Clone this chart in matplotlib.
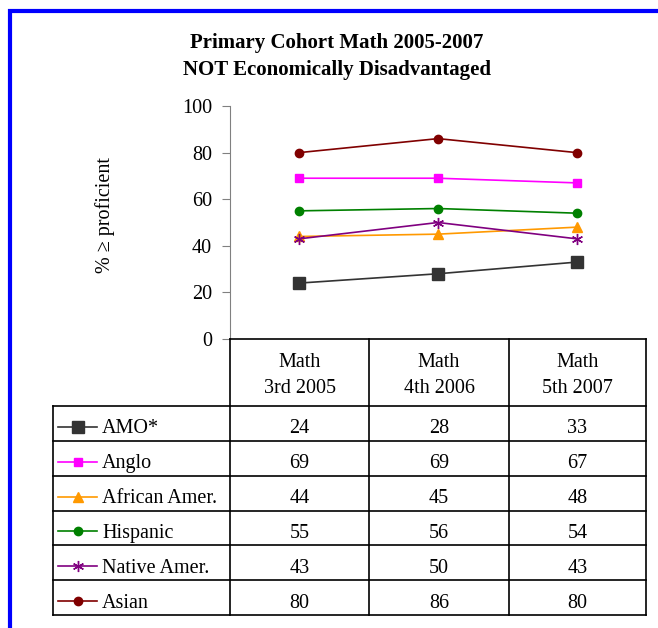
import matplotlib
matplotlib.use("Agg")
import matplotlib.pyplot as plt
from matplotlib.lines import Line2D
from matplotlib.patches import Rectangle

plt.rcParams['font.family'] = ['Liberation Serif', 'DejaVu Serif']

categories = ["Math\n3rd 2005", "Math\n4th 2006", "Math\n5th 2007"]
series_names = ["AMO*", "Anglo", "African Amer.", "Hispanic", "Native Amer.", "Asian"]
amo = [24, 28, 33]
anglo = [69, 69, 67]
african_amer = [44, 45, 48]
hispanic = [55, 56, 54]
native_amer = [43, 50, 43]
asian = [80, 86, 80]
yticks = [0, 20, 40, 60, 80, 100]

values = [amo, anglo, african_amer, hispanic, native_amer, asian]
styles = [
    dict(color="#333333", marker="s", ms=9),
    dict(color="#FF00FF", marker="s", ms=6),
    dict(color="#FF9900", marker="^", ms=7),
    dict(color="#008000", marker="o", ms=6),
    dict(color="#800080", marker=(6, 2, 0), ms=8),
    dict(color="#800000", marker="o", ms=6),
]

FS = 14.5
W, H = 658, 628
fig = plt.figure(figsize=(W / 100, H / 100), dpi=100)


def fx(x):
    return x / W


def fy(y):
    return 1 - y / H


# frame around the chart
fig.patches.append(Rectangle((fx(9.5), fy(700)), fx(700), fy(10.5) - fy(700),
                             transform=fig.transFigure, fill=False,
                             edgecolor="#0000FF", linewidth=3))

fig.text(fx(337), fy(48), "Primary Cohort Math 2005-2007", ha="center", va="baseline",
         fontsize=15, fontweight="bold")
fig.text(fx(337), fy(75), "NOT Economically Disadvantaged", ha="center", va="baseline",
         fontsize=15, fontweight="bold")

# plot area
x0, x1, ytop, ybot = 230, 646, 106, 339
ax = fig.add_axes([fx(x0), fy(ybot), fx(x1) - fx(x0), fy(ytop) - fy(ybot)])
xs = list(range(len(categories)))
for vals, st in zip(values, styles):
    ax.plot(xs, vals, color=st["color"], marker=st["marker"], markersize=st["ms"],
            markerfacecolor=st["color"], markeredgecolor=st["color"], linewidth=1.2,
            clip_on=False)
ax.set_xlim(-0.5, len(categories) - 0.5)
ax.set_ylim(0, 100)
ax.set_yticks(yticks)
ax.set_yticklabels([str(t) for t in yticks], fontsize=FS)
ax.set_xticks([])
for s in ["top", "right", "bottom"]:
    ax.spines[s].set_visible(False)
ax.spines["left"].set_color("#808080")
ax.tick_params(axis="y", direction="out", length=6, color="#808080", pad=7)
fig.text(fx(105), fy(215), "% \u2265 proficient", rotation=90, ha="center", va="center",
         fontsize=FS)

# data table below the plot
tl = 53
col_edges = [230, 369, 509, 646]
header_top, header_bot = 339, 406
row_h = (615 - header_bot) / len(series_names)
lc = "black"
lw = 1.2


def hline(y, xa, xb):
    fig.lines.append(Line2D([fx(xa), fx(xb)], [fy(y), fy(y)], transform=fig.transFigure,
                            color=lc, linewidth=lw))


def vline(x, ya, yb):
    fig.lines.append(Line2D([fx(x), fx(x)], [fy(ya), fy(yb)], transform=fig.transFigure,
                            color=lc, linewidth=lw))


hline(header_top, col_edges[0], col_edges[-1])
for i in range(len(series_names) + 1):
    hline(header_bot + i * row_h, tl, col_edges[-1])
for x in col_edges:
    vline(x, header_top, header_bot + len(series_names) * row_h)
vline(tl, header_bot, header_bot + len(series_names) * row_h)

for j, cat in enumerate(categories):
    cx = (col_edges[j] + col_edges[j + 1]) / 2
    top_line, bottom_line = cat.split("\n")
    fig.text(fx(cx), fy(367), top_line, ha="center", va="baseline", fontsize=FS)
    fig.text(fx(cx), fy(393), bottom_line, ha="center", va="baseline", fontsize=FS)

for i, (name, vals, st) in enumerate(zip(series_names, values, styles)):
    cy = header_bot + (i + 0.5) * row_h
    my = cy + 3.5
    fig.lines.append(Line2D([fx(58), fx(97)], [fy(my), fy(my)], transform=fig.transFigure,
                            color=st["color"], linewidth=1.2))
    fig.lines.append(Line2D([fx(77.5)], [fy(my)], transform=fig.transFigure,
                            color=st["color"], marker=st["marker"], markersize=st["ms"],
                            markerfacecolor=st["color"], markeredgecolor=st["color"],
                            linestyle="none"))
    fig.text(fx(102), fy(cy + 10), name, ha="left", va="baseline", fontsize=FS)
    for j, v in enumerate(vals):
        cx = (col_edges[j] + col_edges[j + 1]) / 2
        fig.text(fx(cx), fy(cy + 10), str(v), ha="center", va="baseline", fontsize=FS)

fig.savefig("out.png", dpi=100, facecolor="white")
